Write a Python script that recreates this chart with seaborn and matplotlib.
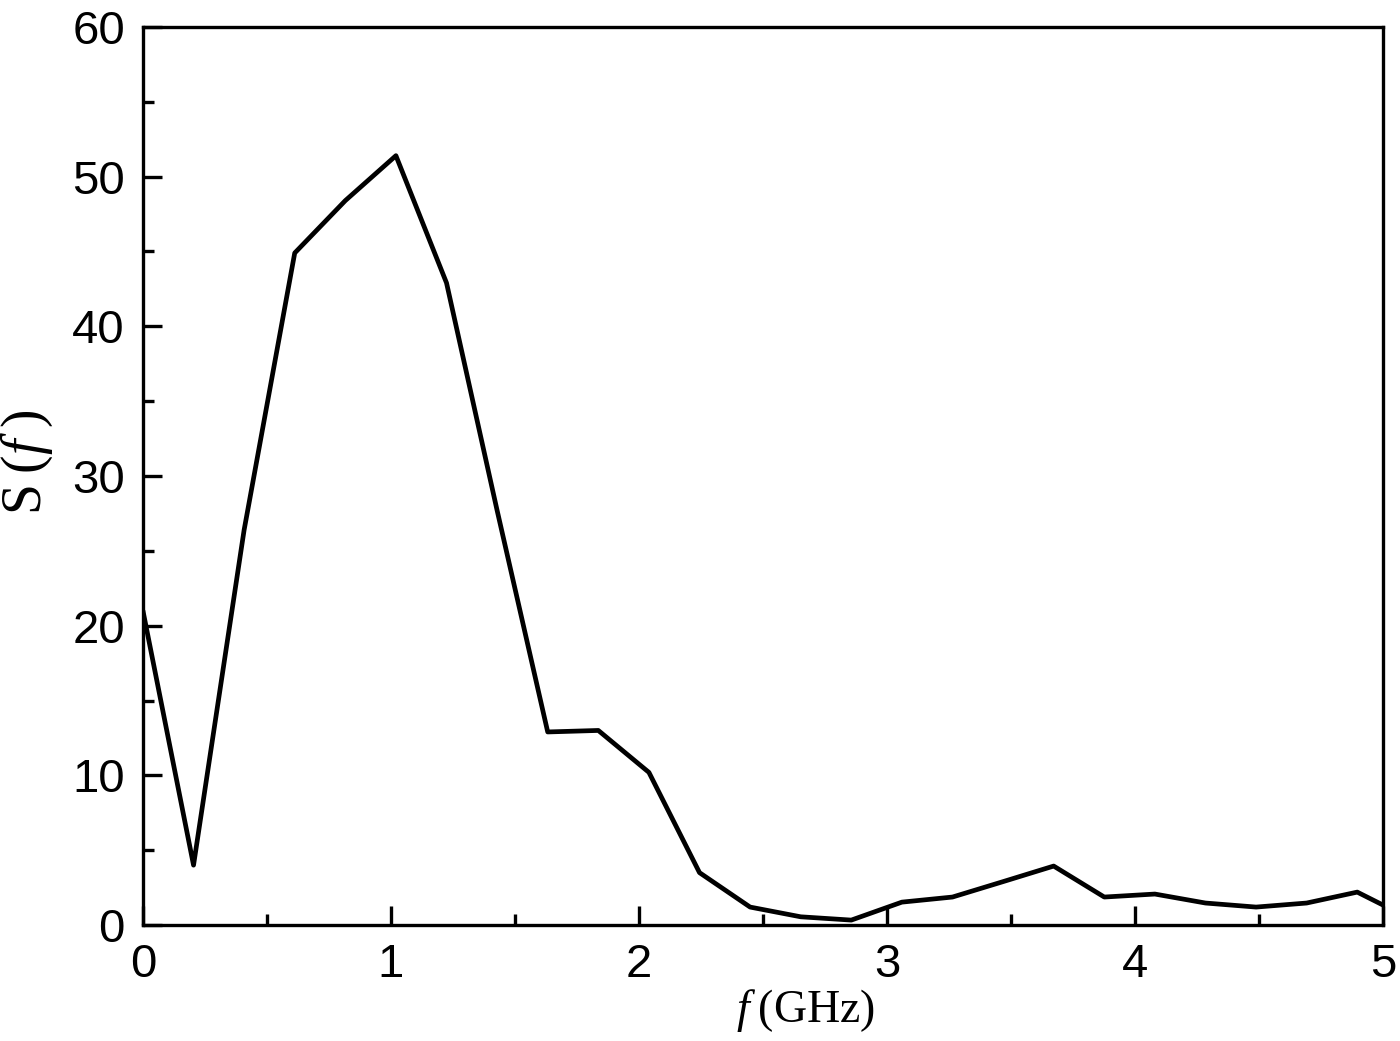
import matplotlib
matplotlib.use("Agg")
import matplotlib.pyplot as plt
import seaborn as sns
import pandas as pd
from matplotlib.ticker import MultipleLocator

freq_ghz = [0.0, 0.204, 0.408, 0.612, 0.816, 1.02, 1.224, 1.428, 1.632, 1.836,
            2.04, 2.244, 2.448, 2.652, 2.856, 3.06, 3.264, 3.468, 3.672, 3.876,
            4.08, 4.284, 4.488, 4.692, 4.896, 5.1]
spectrum = [21.0, 4.0, 26.4, 44.9, 48.4, 51.4, 42.9, 27.7, 12.9, 13.0,
            10.2, 3.5, 1.2, 0.55, 0.33, 1.53, 1.87, 2.9, 3.94, 1.87,
            2.07, 1.47, 1.2, 1.47, 2.2, 0.5]

x_ticks = [0, 1, 2, 3, 4, 5]
y_ticks = [0, 10, 20, 30, 40, 50, 60]

df = pd.DataFrame({"f": freq_ghz, "S": spectrum})

sns.set_theme(style="ticks")
plt.rcParams['font.family'] = ['Liberation Sans', 'DejaVu Sans']
plt.rcParams['mathtext.fontset'] = 'custom'
plt.rcParams['mathtext.rm'] = 'Liberation Serif'
plt.rcParams['mathtext.it'] = 'Liberation Serif:italic'
plt.rcParams['text.color'] = 'black'
plt.rcParams['axes.labelcolor'] = 'black'
plt.rcParams['xtick.color'] = 'black'
plt.rcParams['ytick.color'] = 'black'

fig = plt.figure(figsize=(14, 10.41), dpi=100)
ax = fig.add_axes([0.1021, 0.1114, 0.8858, 0.8627])

sns.lineplot(data=df, x="f", y="S", ax=ax, color="black", linewidth=3.4,
             sort=False, estimator=None)

ax.set_xlim(0, 5)
ax.set_ylim(0, 60)
ax.set_xticks(x_ticks)
ax.set_yticks(y_ticks)
ax.xaxis.set_minor_locator(MultipleLocator(0.5))
ax.yaxis.set_minor_locator(MultipleLocator(5))

for s in ax.spines.values():
    s.set_linewidth(2.4)
    s.set_color("black")

ax.tick_params(which="both", direction="in", top=False, right=False,
               width=2.4, color="black", labelcolor="black")
ax.tick_params(which="major", length=14, pad=13, labelsize=34)
ax.tick_params(which="minor", length=8)

ax.set_xlabel(r"$f\;\mathrm{(GHz)}$", fontsize=33, color="black")
ax.xaxis.set_label_coords(0.534, -0.069, transform=ax.transAxes)
ax.xaxis.label.set_va("top")
ax.set_ylabel(r"$\mathrm{S}\;(f\;)$", fontsize=40, color="black")
ax.yaxis.set_label_coords(-0.071, 0.515, transform=ax.transAxes)

fig.savefig("out.png", dpi=100, facecolor="white")
